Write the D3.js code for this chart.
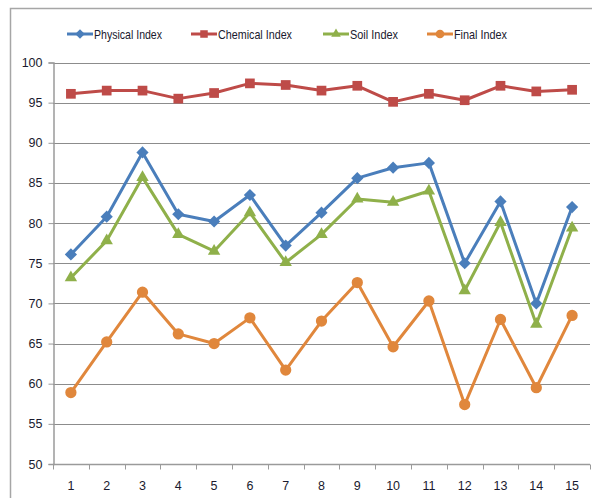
<!DOCTYPE html>
<html>
<head>
<meta charset="utf-8">
<script src="https://cdn.jsdelivr.net/npm/d3@7/dist/d3.min.js"></script>
<style>
  html, body { margin: 0; padding: 0; background: #fff; }
  svg { display: block; }
  text { font-family: "Liberation Sans", "DejaVu Sans", sans-serif; }
</style>
</head>
<body>
<svg id="chart" width="592" height="498"></svg>
<script>
// Sample numbers along the x axis
const categories = ["1","2","3","4","5","6","7","8","9","10","11","12","13","14","15"];

// Index values per sample
const physicalIndex = [76.1, 80.8, 88.8, 81.1, 80.2, 83.5, 77.2, 81.3, 85.6, 86.9, 87.5, 75.0, 82.7, 70.0, 82.0];
const chemicalIndex = [96.1, 96.5, 96.5, 95.5, 96.2, 97.4, 97.2, 96.5, 97.1, 95.1, 96.1, 95.3, 97.1, 96.4, 96.6];
const soilIndex     = [73.2, 77.8, 85.7, 78.6, 76.5, 81.3, 75.1, 78.6, 83.0, 82.6, 84.0, 71.6, 80.1, 67.4, 79.4];
const finalIndex    = [58.9, 65.2, 71.4, 66.2, 65.0, 68.2, 61.7, 67.8, 72.6, 64.6, 70.3, 57.4, 68.0, 59.5, 68.5];

const seriesNames = ["Physical Index", "Chemical Index", "Soil Index", "Final Index"];
const yTicks = [50, 55, 60, 65, 70, 75, 80, 85, 90, 95, 100];

const seriesStyle = [
  { color: "#4A7EBB", marker: d3.symbolDiamond2, size: 95, legendWidth: 68 },
  { color: "#BE4B48", marker: d3.symbolSquare2, size: 120, legendWidth: 74 },
  { color: "#8FB04A", marker: d3.symbolTriangle2, size: 110, legendWidth: 48 },
  { color: "#E0873C", marker: d3.symbolCircle, size: 100, legendWidth: 53 }
];

const series = [physicalIndex, chemicalIndex, soilIndex, finalIndex].map((values, i) => ({
  name: seriesNames[i], values, ...seriesStyle[i]
}));

const svg = d3.select("#chart");
const plot = { left: 53, right: 590, top: 62.5, bottom: 464 };
const textColor = "#1a1a2e";

// Chart frame
svg.append("path")
  .attr("d", "M10.5,498 L10.5,8.5 L592,8.5")
  .attr("fill", "none").attr("stroke", "#a6a6a6").attr("stroke-width", 1.5);

const x = d3.scaleBand().domain(categories).range([plot.left, plot.right]);
const y = d3.scaleLinear().domain([50, 100]).range([plot.bottom, plot.top]);

// Horizontal gridlines
svg.append("g").selectAll("line").data(yTicks.filter(t => t > 50)).join("line")
  .attr("x1", plot.left).attr("x2", plot.right)
  .attr("y1", d => Math.round(y(d)) + 0.5).attr("y2", d => Math.round(y(d)) + 0.5)
  .attr("stroke", "#8c8c8c").attr("stroke-width", 1);

// Y axis
const yAxis = svg.append("g")
  .attr("transform", `translate(${plot.left + 0.5},0)`)
  .call(d3.axisLeft(y).tickValues(yTicks).tickSize(5).tickPadding(6));
yAxis.select(".domain").attr("stroke", "#9a9a9a").attr("stroke-width", 1.5);
yAxis.selectAll(".tick line").attr("stroke", "#9a9a9a");
yAxis.selectAll(".tick text").attr("font-size", 12.5).attr("fill", textColor)
  .style("font-family", "'Liberation Sans', sans-serif");

// X axis with ticks at band edges
const xAxis = svg.append("g").attr("transform", `translate(0,${Math.round(plot.bottom) + 0.5})`);
xAxis.append("line").attr("x1", plot.left).attr("x2", plot.right)
  .attr("stroke", "#9a9a9a").attr("stroke-width", 1.5);
const edges = categories.map(c => x(c)).concat([plot.right]);
xAxis.selectAll("line.tk").data(edges).join("line").attr("class", "tk")
  .attr("x1", d => Math.round(d) + 0.5).attr("x2", d => Math.round(d) + 0.5)
  .attr("y1", 0).attr("y2", 5).attr("stroke", "#9a9a9a");
xAxis.selectAll("text").data(categories).join("text")
  .attr("x", d => x(d) + x.bandwidth() / 2).attr("y", 25)
  .attr("text-anchor", "middle").attr("font-size", 12.5).attr("fill", textColor)
  .text(d => d);

// Series lines and markers
const line = d3.line().x((d, i) => x(categories[i]) + x.bandwidth() / 2).y(d => y(d));
series.forEach(s => {
  const g = svg.append("g");
  g.append("path").attr("d", line(s.values)).attr("fill", "none")
    .attr("stroke", s.color).attr("stroke-width", 3).attr("stroke-linejoin", "round");
  g.selectAll("path.m").data(s.values).join("path").attr("class", "m")
    .attr("transform", (d, i) => `translate(${x(categories[i]) + x.bandwidth() / 2},${y(d)})`)
    .attr("d", d3.symbol().type(s.marker).size(s.size))
    .attr("fill", s.color);
});

// Legend (labels condensed to a fixed width)
const legendX = [67, 191, 323, 427];
const legend = svg.append("g");
series.forEach((s, i) => {
  const g = legend.append("g").attr("transform", `translate(${legendX[i]},34)`);
  g.append("line").attr("x1", 0).attr("x2", 26).attr("stroke", s.color).attr("stroke-width", 3);
  g.append("path").attr("transform", "translate(13,0)")
    .attr("d", d3.symbol().type(s.marker).size(s.size * 0.6)).attr("fill", s.color);
  g.append("text").attr("x", 27).attr("y", 4.5).attr("font-size", 13)
    .attr("textLength", s.legendWidth).attr("lengthAdjust", "spacingAndGlyphs")
    .attr("fill", textColor).text(s.name);
});
</script>
</body>
</html>
